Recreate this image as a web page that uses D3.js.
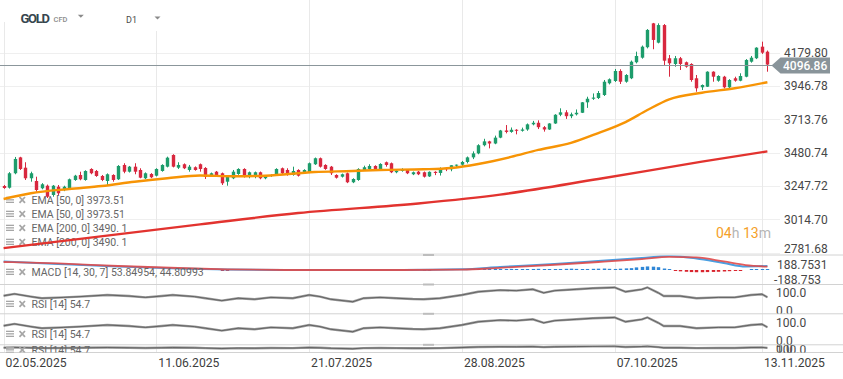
<!DOCTYPE html>
<html><head><meta charset="utf-8">
<script src="https://cdn.jsdelivr.net/npm/d3@7"></script>
<style>
html,body{margin:0;padding:0;background:#fff;overflow:hidden;}
svg{display:block;font-family:Roboto,"Open Sans",sans-serif;}
</style></head><body>
<svg id="chart" width="843" height="379"></svg>
<script>
// ---------------- DATA ----------------
const symbolName = "GOLD", symbolType = "CFD", intervalName = "D1";
const priceTicks = [4179.80, 3946.78, 3713.76, 3480.74, 3247.72, 3014.70, 2781.68];
const dateTickIndex = [0, 28, 56, 84, 112, 139];
const dateTickLabels = ["02.05.2025", "11.06.2025", "21.07.2025", "28.08.2025", "07.10.2025", "13.11.2025"];
const lastPrice = 4096.86;
const countdown = [["04", "num"], ["h", "unit"], [" 13", "num"], ["m", "unit"]];

const open = [3248,3236,3337,3448,3376,3302,3283,3232,3250,3185,3243,3220,3232,3290,3325,3290,3367,3353,3318,3283,
3325,3295,3395,3348,3383,3360,3302,3332,3320,3353,3383,3465,3376,3400,3360,3379,3400,3374,3325,3348,
3337,3278,3302,3332,3367,3325,3313,3344,3302,3318,3325,3372,3360,3325,3360,3344,3344,3400,3442,3395,
3383,3325,3313,3337,3274,3290,3360,3367,3388,3360,3414,3407,3344,3353,3360,3330,3348,3344,3315,3347,
3339,3372,3365,3393,3397,3416,3448,3476,3533,3560,3545,3586,3636,3626,3641,3634,3643,3679,3690,3659,
3643,3685,3746,3763,3736,3749,3760,3833,3858,3863,3884,3966,3982,4052,3977,4001,4113,4145,4218,4385,
4250,4373,4141,4101,4141,4113,4101,4001,3938,3942,4047,3984,4012,3938,4001,3984,4012,4117,4141,4222,4187];
const high = [3255,3345,3451,3452,3414,3348,3313,3268,3258,3255,3255,3250,3300,3326,3348,3358,3372,3360,3325,3336,
3330,3394,3407,3388,3407,3372,3343,3338,3372,3400,3453,3470,3414,3406,3395,3385,3405,3380,3342,3353,
3342,3318,3360,3372,3372,3349,3349,3349,3325,3330,3372,3377,3372,3383,3365,3365,3412,3447,3447,3400,
3388,3330,3335,3342,3302,3372,3390,3400,3393,3407,3419,3412,3360,3372,3365,3349,3353,3349,3350,3351,
3378,3376,3393,3398,3423,3454,3490,3540,3578,3564,3600,3640,3674,3657,3645,3656,3685,3703,3707,3667,
3687,3750,3791,3778,3761,3783,3835,3872,3895,3912,3989,4000,4066,4064,4030,4125,4187,4230,4345,4388,
4385,4380,4164,4157,4150,4118,4106,4024,3958,4050,4050,4022,4018,3995,4012,4036,4135,4157,4218,4257,4195];
const low = [3228,3230,3330,3360,3290,3278,3208,3225,3164,3173,3185,3212,3226,3284,3288,3285,3330,3312,3282,3250,
3278,3290,3337,3342,3330,3302,3296,3303,3315,3348,3378,3378,3367,3366,3348,3355,3348,3297,3318,3313,
3255,3250,3296,3326,3307,3302,3302,3295,3295,3312,3320,3331,3320,3320,3314,3338,3338,3395,3377,3361,
3325,3300,3307,3268,3268,3284,3354,3361,3361,3354,3383,3338,3337,3348,3331,3324,3324,3307,3311,3324,
3321,3352,3351,3375,3387,3406,3436,3470,3525,3511,3540,3582,3616,3620,3609,3628,3634,3672,3646,3628,
3640,3682,3736,3717,3722,3741,3758,3794,3850,3856,3877,3958,3975,3961,3970,3995,4105,4138,4210,4204,
4245,4094,4012,4082,4059,4075,3977,3907,3919,3940,3977,3977,3930,3930,3977,3980,4008,4110,4135,4171,4047];
const close = [3234,3337,3437,3367,3302,3337,3220,3260,3173,3250,3197,3243,3295,3320,3295,3353,3337,3318,3290,3330,
3290,3388,3348,3383,3348,3306,3337,3309,3367,3395,3446,3383,3395,3372,3383,3360,3367,3311,3337,3325,
3267,3313,3348,3367,3313,3344,3344,3302,3320,3325,3367,3337,3325,3353,3320,3360,3407,3442,3383,3367,
3337,3306,3330,3274,3297,3367,3379,3388,3367,3402,3395,3344,3355,3360,3337,3344,3330,3313,3347,3339,
3372,3365,3393,3397,3416,3448,3476,3533,3560,3545,3586,3636,3626,3641,3634,3643,3679,3690,3659,3643,
3685,3746,3763,3736,3749,3760,3833,3858,3866,3898,3977,3994,4052,3977,4024,4117,4157,4222,4339,4269,
4373,4124,4106,4141,4101,4082,3989,3931,3954,4047,4012,4017,3938,3989,3984,4017,4129,4145,4215,4180,4096.86];

// EMA lines: [candle index, value]
const ema50 = [[0,3157],[5,3197],[12,3227],[18,3248],[24,3278],[30,3302],[36,3321],[42,3316],[48,3320],[57,3346],
[64,3353],[69,3360],[77,3365],[82,3374],[87,3402],[93,3451],[98,3500],[104,3549],[109,3618],[114,3695],
[118,3779],[122,3854],[128,3900],[134,3931],[140,3973.51]];
const ema200 = [[0,2814],[36,2980],[54,3059],[76,3126],[91,3188],[109,3297],[128,3418],[140,3490.1]];

const legendEMA = ["EMA [50, 0] 3973.51", "EMA [50, 0] 3973.51", "EMA [200, 0] 3490. 1", "EMA [200, 0] 3490. 1"];
const legendMACD = "MACD [14, 30, 7] 53.84954,  44.80993";
const legendRSI = "RSI [14]  54.7";

const macdTicks = [188.7531, -188.753];
const macdLine = [[0,115],[10,81],[21,47],[32,20],[41,7],[54,0],[73,0],[84,9],[91,40],[101,81],[109,121],[117,162],
[122,189],[127,155],[132,94],[136,47],[140,53.85]];
const signalLine = [[0,108],[10,88],[21,54],[32,27],[41,9],[54,0],[73,0],[84,4],[91,30],[101,71],[109,108],[117,148],
[122,178],[127,169],[132,115],[136,67],[140,44.81]];
const macdHist = [0,0,0,0,0,0,0,0,0,0,0,0,0,0,0,0,0,0,0,0,0,0,0,0,0,0,0,0,0,0,0,0,0,0,0,0,0,0,0,0,
-10,-10,
0,0,0,0,0,0,0,0,0,0,0,0,0,0,0,0,0,0,0,0,0,0,0,0,0,0,0,0,0,0,0,0,0,0,0,
-10,-10,
4,4,4,4,4,4,4,4,
10,12,14,12,10,12,15,12,10,12,14,16,12,10,12,14,16,18,15,12,14,16,18,20,16,14,18,22,25,
35,42,48,45,38,20,
5,
-10,-18,-24,-28,-30,-30,-28,-26,-24,-20,-16,-12,-6,
0,
6,10,12,12];

const rsiTicks = [100, 0];
const rsi = [[0,60],[2,67],[5,57],[7,51],[11,54],[14,57],[19,63],[23,59],[26,54],[29,59],[31,63],[35,57],[37,51],
[40,42],[43,51],[46,47],[49,54],[53,51],[56,63],[58,57],[60,47],[64,38],[66,51],[69,54],[72,51],[75,48],[77,47],
[80,51],[84,63],[87,75],[91,81],[94,79],[97,84],[99,71],[101,79],[105,84],[108,88],[112,91],[114,75],[117,84],
[118,91],[120,71],[121,59],[124,59],[127,51],[131,54],[134,54],[137,63],[139,66],[140,54.7]];

// ---------------- LAYOUT / STYLE ----------------
const W = 843, H = 379, plotRight = 780;
const GREEN = "#1d9c6b", RED = "#d8283f";
const svg = d3.select("#chart");

const x = d3.scaleLinear().domain([0, 140]).range([3.6, 767.4]);
const y = d3.scaleLinear().domain([2781.68, 4179.80]).range([252.7, 52.7]);
const yMacd = d3.scaleLinear().domain([-188.753, 188.7531]).range([284, 256]);
const rsiPanels = [
  {y: d3.scaleLinear().domain([0,100]).range([312, 285]), clip: [284.5, 313.5], legendY: 304},
  {y: d3.scaleLinear().domain([0,100]).range([342, 315]), clip: [314, 344.5], legendY: 334},
  {y: d3.scaleLinear().domain([0,100]).range([350.5, 345.8]), clip: [345.3, 352.5], legendY: 350}
];
const separators = [255, 284.5, 313.8, 344.8, 352.5];

const defs = svg.append("defs");
function addClip(id, y0, y1, w) {
  defs.append("clipPath").attr("id", id).append("rect")
    .attr("x", 0).attr("y", y0).attr("width", w || plotRight).attr("height", y1 - y0);
}
addClip("cMain", 0, 255);
addClip("cMacd", 255.5, 284.5);
rsiPanels.forEach((p, k) => { addClip("cR" + k, p.clip[0], p.clip[1]); addClip("cRa" + k, p.clip[0], p.clip[1], W); });

// grid
const grid = svg.append("g");
grid.selectAll("line.hg").data(priceTicks).join("line")
  .attr("x1", 0).attr("x2", plotRight)
  .attr("y1", d => Math.round(y(d)) + 0.5).attr("y2", d => Math.round(y(d)) + 0.5)
  .attr("stroke", "#efefef").attr("stroke-width", 1);
grid.selectAll("line.vg").data(dateTickIndex).join("line")
  .attr("x1", d => Math.round(x(d)) + 0.5).attr("x2", d => Math.round(x(d)) + 0.5)
  .attr("y1", 0).attr("y2", 352.5)
  .attr("stroke", "#e9e9e9").attr("stroke-width", 1);

// header background + header
svg.append("rect").attr("x", 0).attr("y", 0).attr("width", 110).attr("height", 22).attr("fill", "#fff");
svg.append("rect").attr("x", 110).attr("y", 0).attr("width", 65).attr("height", 31).attr("fill", "#fff");
svg.append("text").attr("x", 20.5).attr("y", 23.3).text(symbolName)
  .attr("font-size", 13).attr("font-weight", 700).attr("fill", "#37464f").attr("textLength", 29.5);
svg.append("text").attr("x", 53.5).attr("y", 21.6).text(symbolType)
  .attr("font-size", 7.5).attr("font-weight", 500).attr("fill", "#8c8c8c");
svg.append("path").attr("d", "M77.8,14.8L83.8,14.8L80.8,17.8Z").attr("fill", "#8a8a8a");
svg.append("text").attr("x", 126).attr("y", 23.3).text(intervalName)
  .attr("font-size", 9).attr("fill", "#4a4a4a");
svg.append("path").attr("d", "M154.5,16.5L160.5,16.5L157.5,19.5Z").attr("fill", "#8a8a8a");

// legend icons
function icons(g, yc) {
  [-3.3, -0.8, 1.7].forEach(dy => g.append("rect").attr("x", 6).attr("y", yc + dy).attr("width", 8).attr("height", 1.3).attr("fill", "#a6a6a6"));
  g.append("path").attr("d", `M19.5,${yc-3}L25,${yc+2.8}M25,${yc-3}L19.5,${yc+2.8}`)
    .attr("stroke", "#a6a6a6").attr("stroke-width", 1.8);
}
function legendText(g, yc, s) {
  g.append("text").attr("x", 31.5).attr("y", yc).attr("dy", "0.35em").text(s)
    .attr("font-size", 10.5).attr("fill", "#666666");
}
const legMain = svg.append("g");
legendEMA.forEach((s, k) => { const yc = 200 + 14 * k; icons(legMain, yc); legendText(legMain, yc, s); });

// countdown
const cd = svg.append("text").attr("x", 716).attr("y", 233.5).attr("dy", "0.35em").attr("font-size", 14);
countdown.forEach(([s, t]) => cd.append("tspan").text(s).attr("fill", t === "num" ? "#f5a028" : "#b5b5b5"));

// candles
const candles = d3.range(open.length).map(i => ({i, o: open[i], h: high[i], l: low[i], c: close[i]}));
const gC = svg.append("g").attr("clip-path", "url(#cMain)");
gC.selectAll("line.wick").data(candles).join("line")
  .attr("x1", d => Math.round(x(d.i)) + 0.5).attr("x2", d => Math.round(x(d.i)) + 0.5)
  .attr("y1", d => y(d.h)).attr("y2", d => y(d.l))
  .attr("stroke", d => d.c >= d.o ? GREEN : RED).attr("stroke-width", 1);
gC.selectAll("rect.body").data(candles).join("rect")
  .attr("x", d => Math.round(x(d.i)) - 1.2).attr("width", 3.4)
  .attr("y", d => y(Math.max(d.o, d.c)))
  .attr("height", d => Math.max(1, Math.abs(y(d.o) - y(d.c))))
  .attr("fill", d => d.c >= d.o ? GREEN : RED);

// EMA lines
const lineMain = d3.line().x(d => x(d[0])).y(d => y(d[1])).curve(d3.curveMonotoneX);
gC.append("path").attr("d", lineMain(ema200)).attr("fill", "none").attr("stroke", "#e2332f").attr("stroke-width", 2.4);
gC.append("path").attr("d", lineMain(ema50)).attr("fill", "none").attr("stroke", "#f79405").attr("stroke-width", 2.4);

// current price line + tag
const yp = Math.round(y(lastPrice)) + 0.5;
svg.append("line").attr("x1", 0).attr("x2", 772).attr("y1", yp).attr("y2", yp).attr("stroke", "#8b969b").attr("stroke-width", 1);

// price axis
const yAxis = svg.append("g").attr("transform", "translate(784,0)")
  .call(d3.axisRight(y).tickValues(priceTicks).tickFormat(d3.format(".2f")).tickSize(0).tickPadding(0));
yAxis.select(".domain").remove();
yAxis.attr("font-size", 12).attr("font-family", "Roboto");
yAxis.selectAll(".tick").attr("transform", d => `translate(0,${Math.min(y(d), 248.3)})`);
yAxis.selectAll("text").attr("fill", "#474747").attr("dy", "0.35em").attr("x", 0);

svg.append("path")
  .attr("d", `M771.5,${yp}L780.5,${yp-8}L830,${yp-8}L830,${yp+8}L780.5,${yp+8}Z`)
  .attr("fill", "#89949a");
svg.append("text").attr("x", 783).attr("y", yp).attr("dy", "0.35em").text(lastPrice.toFixed(2))
  .attr("font-size", 12).attr("font-weight", 500).attr("fill", "#ffffff");

// separators
svg.selectAll("line.sep").data(separators).join("line")
  .attr("x1", 0).attr("x2", W).attr("y1", d => d).attr("y2", d => d)
  .attr("stroke", "#d2d2d2").attr("stroke-width", 1);
// panel handles
svg.selectAll("rect.handle").data(separators.slice(0, 4)).join("rect")
  .attr("x", 423).attr("y", d => d - 1).attr("width", 11).attr("height", 2).attr("fill", "#bdbdbd");

// MACD panel
const gM = svg.append("g").attr("clip-path", "url(#cMacd)");
const zeroY = yMacd(0);
gM.selectAll("rect.hist").data(macdHist.map((v, i) => ({i, v})).filter(d => d.v !== 0)).join("rect")
  .attr("x", d => Math.round(x(d.i)) - 1.2).attr("width", 3.4)
  .attr("y", d => d.v > 0 ? Math.min(yMacd(d.v), zeroY - 1) : zeroY)
  .attr("height", d => Math.max(1, Math.abs(yMacd(d.v) - zeroY)))
  .attr("fill", d => d.v > 0 ? "#2f86d6" : "#d9262f");
const lineM = d3.line().x(d => x(d[0])).y(d => yMacd(d[1])).curve(d3.curveMonotoneX);
gM.append("path").attr("d", lineM(macdLine)).attr("fill", "none").attr("stroke", "#4a9fe2").attr("stroke-width", 2);
gM.append("path").attr("d", lineM(signalLine)).attr("fill", "none").attr("stroke", "#e04a4a").attr("stroke-width", 1.8).attr("opacity", 0.9);
const legM = svg.append("g");
icons(legM, 272); legendText(legM, 272, legendMACD);
const mAxis = svg.append("g").attr("transform", "translate(777,0)")
  .call(d3.axisRight(yMacd).tickValues(macdTicks).tickFormat(d => String(d)).tickSize(0).tickPadding(0));
mAxis.select(".domain").remove();
mAxis.attr("font-size", 12).attr("font-family", "Roboto");
mAxis.selectAll(".tick").attr("transform", d => `translate(${d < 0 ? -3 : 0},${d > 0 ? yMacd(d) + 9 : yMacd(d) - 4.5})`);
mAxis.selectAll("text").attr("fill", "#474747").attr("dy", "0.35em").attr("x", 0);

// RSI panels
const lineR = p => d3.line().x(d => x(d[0])).y(d => p.y(d[1]));
rsiPanels.forEach((p, k) => {
  const g = svg.append("g").attr("clip-path", `url(#cR${k})`);
  g.append("path").attr("d", lineR(p)(rsi)).attr("fill", "none").attr("stroke", "#9d9d9d").attr("stroke-width", 2.4);
  g.append("path").attr("d", lineR(p)(rsi)).attr("fill", "none").attr("stroke", "#4a4a4a").attr("stroke-width", 0.7);
  icons(g, p.legendY); legendText(g, p.legendY, legendRSI);
  const ga = svg.append("g").attr("clip-path", `url(#cRa${k})`);
  const ax = ga.append("g").attr("transform", "translate(776,0)")
    .call(d3.axisRight(p.y).tickValues(rsiTicks).tickFormat(d3.format(".1f")).tickSize(0).tickPadding(0));
  ax.select(".domain").remove();
  ax.attr("font-size", 12).attr("font-family", "Roboto");
  ax.selectAll(".tick").attr("transform", d => `translate(0,${d === 100 ? Math.min(p.y(d) + 7.5, p.clip[1] - 3) : p.y(d) - 1.5})`);
  ax.selectAll("text").attr("fill", "#474747").attr("dy", "0.35em").attr("x", 0);
});

// date axis
const xAxis = svg.append("g").attr("transform", "translate(0,363)")
  .call(d3.axisBottom(x).tickValues(dateTickIndex).tickFormat((d, i) => dateTickLabels[i]).tickSize(0).tickPadding(0));
xAxis.select(".domain").remove();
xAxis.attr("font-size", 12.5).attr("font-family", "Roboto");
xAxis.selectAll("text").attr("text-anchor", "start").attr("dy", "0.35em").attr("y", 0).attr("x", 1.5)
  .attr("fill", "#3d3d3d").attr("textLength", 61).attr("lengthAdjust", "spacingAndGlyphs");
</script>
</body></html>
